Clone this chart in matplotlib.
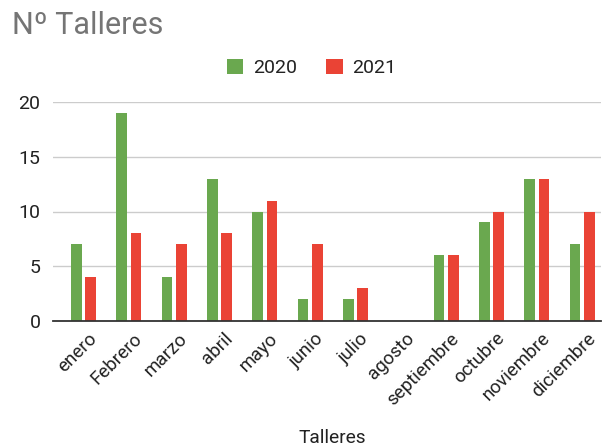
import matplotlib
matplotlib.use("Agg")
import matplotlib.pyplot as plt
import matplotlib.transforms as mtransforms
import numpy as np

plt.rcParams['font.family'] = ['Roboto', 'DejaVu Sans']

months = ["enero", "Febrero", "marzo", "abril", "mayo", "junio", "julio",
          "agosto", "septiembre", "octubre", "noviembre", "diciembre"]
v2020 = [7, 19, 4, 13, 10, 2, 2, 0, 6, 9, 13, 7]
v2021 = [4, 8, 7, 8, 11, 7, 3, 0, 6, 10, 13, 10]
yticks = [0, 5, 10, 15, 20]

green = "#6aa84f"
red = "#ea4335"
W, H = 602, 447

fig = plt.figure(figsize=(W/100, H/100), dpi=100)
ax_left, ax_right = 53, 601
ax = fig.add_axes([ax_left/W, (H-321)/H, (ax_right-ax_left)/W, (321-102)/H])

x = np.arange(len(months))
w = 0.236
off = 0.158
ax.bar(x - off, v2020, width=w, color=green, label="2020", zorder=3)
ax.bar(x + off, v2021, width=w, color=red, label="2021", zorder=3)

step = 45.34
c0 = 83.5
ax.set_xlim((ax_left - c0)/step, (ax_right - c0)/step)
ax.set_ylim(0, 20)
ax.set_yticks(yticks)
ax.set_yticklabels([str(t) for t in yticks], fontsize=14, color="#222222")
ax.yaxis.grid(True, color="#cccccc", linewidth=1, zorder=0)
ax.set_axisbelow(True)
for s in ["top", "right", "left"]:
    ax.spines[s].set_visible(False)
ax.spines["bottom"].set_color("#333333")
ax.spines["bottom"].set_linewidth(1.3)
ax.spines["bottom"].set_zorder(4)
ax.tick_params(axis="y", length=0, pad=9)
ax.tick_params(axis="x", length=0, pad=6)
ax.set_xticks(x)
ax.set_xticklabels(months, rotation=45, ha="right", va="top",
                   rotation_mode="anchor", fontsize=13.5, color="#222222")
offset = mtransforms.ScaledTranslation(4/100, 0, fig.dpi_scale_trans)
for lbl in ax.get_xticklabels():
    lbl.set_transform(lbl.get_transform() + offset)

fig.text(332/W, 1 - 438/H, "Talleres", ha="center", va="center", fontsize=13.8, color="#222222")
fig.text(12/W, 1 - 25/H, "Nº Talleres", ha="left", va="center", fontsize=22, color="#757575")

fig.legend(loc="center", bbox_to_anchor=(311.5/W, 1 - 68/H),
           ncol=2, frameon=False, fontsize=14, handlelength=0.85, handleheight=0.85,
           columnspacing=1.5, handletextpad=0.5, labelcolor="#222222")

fig.savefig("out.png", dpi=100)
